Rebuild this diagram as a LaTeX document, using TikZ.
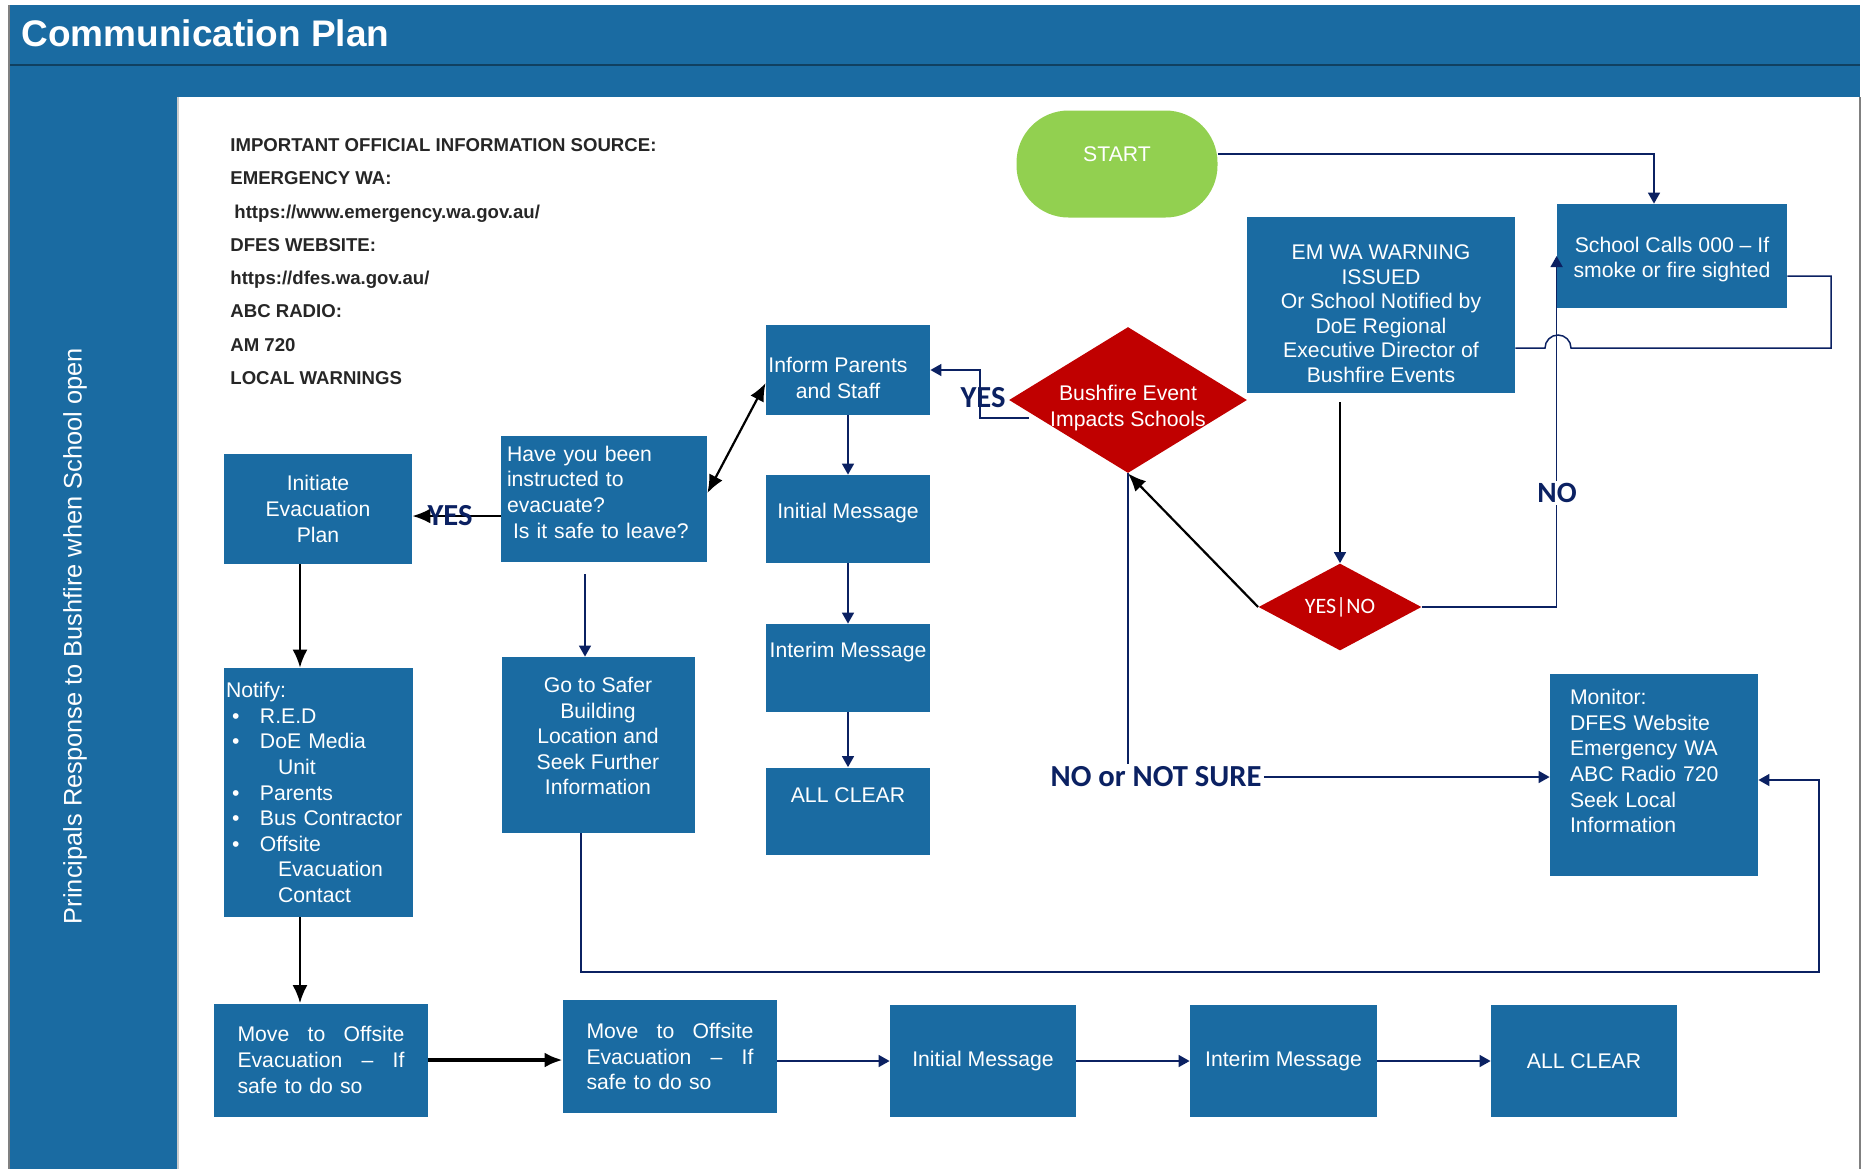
\documentclass[tikz,border=0pt]{standalone}
\usepackage{fontspec}
\setmainfont{Liberation Sans}
\newfontfamily\calib{Carlito}
\usetikzlibrary{shapes.geometric,arrows.meta}
\definecolor{boxblue}{HTML}{1A6BA2}
\definecolor{linenavy}{HTML}{0B2162}
\definecolor{firered}{HTML}{C00000}
\definecolor{startgreen}{HTML}{92D050}
\newcommand{\itm}[1]{\hspace*{3pt}\makebox[14pt][l]{\textbullet}#1}
\newcommand{\lifttext}[1]{\rule[-#1]{0pt}{#1}}
\newcommand{\droptext}[1]{\rule{0pt}{#1}}
\begin{document}
\begin{tikzpicture}[x=0.5pt,y=-0.5pt]
        \tikzstyle{bloc}=[fill=boxblue,text=white,inner xsep=1pt,inner ysep=1pt,align=center,font=\fontsize{10.6}{12.8}\selectfont]
        \tikzstyle{losange}=[diamond,fill=firered,text=white,inner sep=0pt,align=center,font=\fontsize{10.6}{12.8}\selectfont]
        \tikzstyle{mot}=[text=linenavy,inner sep=1pt,font=\calib\bfseries\fontsize{15.3}{18}\selectfont]
        \tikzstyle{navyline}=[draw=linenavy,line width=0.75pt]
        \tikzstyle{navyarr}=[navyline,-{Triangle[width=6pt,length=5.5pt]}]
        \tikzstyle{blackarr}=[draw=black,line width=1.1pt,-{Latex[width=7.5pt,length=9pt]}]
        \useasboundingbox (0,0) rectangle (1863,1169);
        % frame
        \fill[boxblue] (9,5) rectangle (1860,97);
        \fill[boxblue] (9,97) rectangle (178,1169);
        \draw[boxblue!60!black,line width=1pt] (9,65) -- (1860,65);
        \draw[black!50,line width=0.6pt] (9,5) -- (9,1169);
        \draw[black!50,line width=0.6pt] (1860,97) -- (1860,1169);
        \draw[black!20,line width=0.8pt] (178,97) -- (178,1169);
        \node[anchor=west,text=white,inner sep=0pt,font=\bfseries\fontsize{18.5}{22}\selectfont] (titre) at (21,33) {Communication Plan};
        \node[rotate=90,text=white,font=\fontsize{12.7}{15}\selectfont] (cote) at (75,636) {Principals Response to Bushfire when School open};
        \node[anchor=north west,inner sep=0pt,align=left,text=black!85,font=\bfseries\fontsize{9.3}{16.65}\selectfont] (info) at (230,138) {IMPORTANT OFFICIAL INFORMATION SOURCE:\\EMERGENCY WA:\\\hspace*{2pt}https://www.emergency.wa.gov.au/\\DFES WEBSITE:\\https://dfes.wa.gov.au/\\ABC RADIO:\\AM 720\\LOCAL WARNINGS};
        % boxes
        \node[bloc,fill=startgreen,rounded corners=26pt,minimum width=100.5pt,minimum height=53.5pt] (start) at (1117,164) {START\lifttext{10pt}};
        \node[bloc,minimum width=115pt,minimum height=52pt] (calls) at (1672,256) {\droptext{11pt}School Calls 000 -- If\\smoke or fire sighted};
        \node[bloc,minimum width=134pt,minimum height=88pt,font=\fontsize{10.6}{12.3}\selectfont] (emwa) at (1381,305) {\droptext{16pt}EM WA WARNING\\ISSUED\\Or School Notified by\\DoE Regional\\Executive Director of\\Bushfire Events};
        \node[losange,shape aspect=1.63,minimum width=119pt,minimum height=73pt] (bush) at (1128,400) {};
        \node[text=white,inner sep=0pt,align=center,font=\fontsize{10.6}{12.8}\selectfont] (bushtext) at (1128,408) {Bushfire Event\\Impacts Schools};
        \node[losange,shape aspect=1.87,minimum width=81.5pt,minimum height=43.5pt,font=\calib\fontsize{11}{13}\selectfont] (yesno) at (1340,607) {YES|NO};
        \node[bloc,minimum width=82pt,minimum height=45pt] (inform) at (848,370) {\droptext{15.7pt}Inform Parents\rule{10pt}{0pt}\\and Staff\rule{10pt}{0pt}};
        \node[bloc,minimum width=82pt,minimum height=44pt] (msg1) at (848,519) {Initial Message\lifttext{8pt}};
        \node[bloc,minimum width=82pt,minimum height=44pt] (interim1) at (848,668) {Interim Message\lifttext{18pt}};
        \node[bloc,minimum width=82pt,minimum height=43.5pt] (clear1) at (848,811) {ALL CLEAR\lifttext{16pt}};
        \node[bloc,minimum width=103pt,minimum height=63pt,text width=97pt,align=left,inner xsep=3pt] (have) at (604,499) {Have you been\\instructed to\\evacuate?\\\hspace*{3pt}Is it safe to leave?\lifttext{7pt}};
        \node[bloc,minimum width=94pt,minimum height=55pt] (initiate) at (318,509) {Initiate\\Evacuation\\Plan};
        \node[bloc,minimum width=96.5pt,minimum height=88pt] (safer) at (598,745) {Go to Safer\\Building\\Location and\\Seek Further\\Information\lifttext{9pt}};
        \node[bloc,minimum width=94.5pt,minimum height=124.5pt,text width=92.5pt,align=left] (notify) at (318.5,792.5) {Notify:\\\itm{R.E.D}\\\itm{DoE Media}\\\hspace*{26pt}Unit\\\itm{Parents}\\\itm{Bus Contractor}\\\itm{Offsite}\\\hspace*{26pt}Evacuation\\\hspace*{26pt}Contact};
        \node[bloc,minimum width=104pt,minimum height=101pt,text width=84pt,align=left,inner xsep=10pt] (monitor) at (1654,775) {Monitor:\\DFES Website\\Emergency WA\\ABC Radio 720\\Seek Local\\Information\lifttext{14pt}};
        \node[bloc,minimum width=107pt,minimum height=56.5pt,text width=83.5pt,align=left,inner xsep=11.75pt] (move1) at (321,1060) {\makebox[83.5pt][l]{Move\hfill to\hfill Offsite}\\\makebox[83.5pt][l]{Evacuation\hfill --\hfill If}\\safe to do so};
        \node[bloc,minimum width=107pt,minimum height=56.5pt,text width=83.5pt,align=left,inner xsep=11.75pt] (move2) at (670,1056.5) {\makebox[83.5pt][l]{Move\hfill to\hfill Offsite}\\\makebox[83.5pt][l]{Evacuation\hfill --\hfill If}\\safe to do so};
        \node[bloc,minimum width=93pt,minimum height=56pt] (msg2) at (983,1061) {Initial Message};
        \node[bloc,minimum width=93.5pt,minimum height=56pt] (interim2) at (1283.5,1061) {Interim Message};
        \node[bloc,minimum width=93pt,minimum height=56pt] (clear2) at (1584,1061) {ALL CLEAR};
        \node[mot] (nosure) at (1156,777) {NO or NOT SURE};
        % connectors
        \coordinate (yc) at (980,370);
        \coordinate (r1) at (1831,348);
        \coordinate (hop) at (1571,348);
        \coordinate (s2) at (1819,972);
        \coordinate (e1) at ([yshift=-4.5pt]emwa.south);
        \coordinate (h1) at ([yshift=-8.5pt]have.west);
        \coordinate (h2) at ([shift={(-9.5pt,-6pt)}]have.south);
        \coordinate (i1) at ([xshift=-9pt]initiate.south);
        \coordinate (n1) at ([xshift=-9.25pt]notify.south);
        \coordinate (s1) at ([xshift=-8.5pt]safer.south);
        \draw[navyarr] ([yshift=5pt]start.east) -| ([xshift=-9pt]calls.north);
        \draw[navyline] ([yshift=-10pt]calls.east) -| (r1) -- (hop) arc[start angle=0,end angle=180,radius=6.5pt] -- (emwa.east |- r1);
        \draw[navyarr] (yesno.east) -| (calls.west);
        \draw[draw=black,line width=0.75pt,-{Triangle[width=6pt,length=5.5pt,color=linenavy]}] (e1 -| yesno.north) -- (yesno.north);
        \draw[blackarr] (yesno.west) -- (bush.south);
        \draw[navyline] (bush.south) -- (bush.south |- nosure.north);
        \draw[navyarr] (nosure.east) -- (nosure.east -| monitor.west);
        \draw[navyarr] ([shift={(10pt,-9pt)}]bush.west) -| (yc) -- (inform.east);
        \draw[blackarr,{Latex[width=7.5pt,length=9pt]}-{Latex[width=7.5pt,length=9pt]}] ([yshift=-6.5pt]inform.west) -- ([yshift=3pt]have.east);
        \draw[navyarr] (inform) -- (msg1);
        \draw[navyarr] (msg1) -- (interim1);
        \draw[navyarr] (interim1) -- (clear1);
        \draw[blackarr] (h1) -- (h1 -| initiate.east);
        \draw[navyarr] (h2) -- (h2 |- safer.north);
        \draw[blackarr] (i1) -- (i1 |- notify.north);
        \draw[blackarr] (n1) -- (n1 |- move1.north);
        \draw[blackarr,line width=2pt] (move1.east) -- (move1.east -| move2.west);
        \draw[navyarr] (msg2.west -| move2.east) -- (msg2.west);
        \draw[navyarr] (msg2) -- (interim2);
        \draw[navyarr] (interim2) -- (clear2);
        \draw[navyarr] (s1) |- (s2) |- ([yshift=-2.5pt]monitor.east);
        % labels
        \node[mot] (yes1) at (983,398) {YES};
        \node[mot] (yes2) at (450,516) {YES};
        \node[mot,fill=white,font=\calib\bfseries\fontsize{14.7}{17}\selectfont] (non) at (1557,493) {NO};
\end{tikzpicture}
\end{document}
